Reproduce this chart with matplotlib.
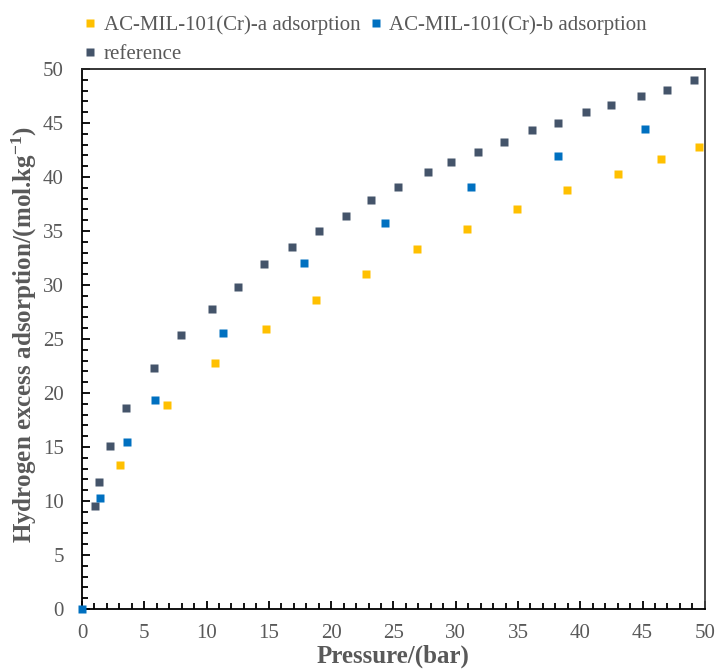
import numpy as np
import matplotlib
matplotlib.use("Agg")
import matplotlib.pyplot as plt
from matplotlib.ticker import MultipleLocator

# data
ref_p = [1.04, 1.39, 2.25, 3.5, 5.78, 7.97, 10.4, 12.55, 14.63, 16.83, 19.0, 21.2,
         23.2, 25.4, 27.8, 29.6, 31.8, 33.9, 36.1, 38.2, 40.5, 42.5, 44.9, 47.0, 49.1]
ref_q = [9.56, 11.76, 15.06, 18.64, 22.34, 25.37, 27.78, 29.84, 31.92, 33.49, 35.0, 36.36,
         37.84, 39.07, 40.44, 41.42, 42.34, 43.21, 44.38, 45.0, 46.02, 46.69, 47.47, 48.08, 48.98]

a_p = [3.07, 6.85, 10.7, 14.75, 18.8, 22.8, 26.9, 30.9, 34.95, 38.95, 43.05, 46.45, 49.55]
a_q = [13.3, 18.86, 22.75, 25.9, 28.6, 31.0, 33.3, 35.2, 37.06, 38.8, 40.3, 41.67, 42.78]

b_p = [0.0, 1.47, 3.6, 5.88, 11.3, 17.8, 24.3, 31.2, 38.2, 45.2]
b_q = [0.0, 10.3, 15.46, 19.35, 25.6, 32.0, 35.7, 39.07, 41.9, 44.4]

plt.rcParams['font.family'] = ['Liberation Serif', 'DejaVu Serif']
plt.rcParams['mathtext.fontset'] = 'custom'
plt.rcParams['mathtext.rm'] = 'Liberation Serif:bold'
plt.rcParams['mathtext.it'] = 'Liberation Serif:bold'
plt.rcParams['mathtext.bf'] = 'Liberation Serif:bold'

grey = '#595959'

fig = plt.figure(figsize=(7.17, 6.7), dpi=100)
ax = fig.add_axes([0.1144, 0.091, 0.8686, 0.806])

ha, = ax.plot(a_p, a_q, 's', color='#FFC000', markersize=6, mec='none', clip_on=False, zorder=3,
              label='AC-MIL-101(Cr)-a adsorption')
hb, = ax.plot(b_p, b_q, 's', color='#0070C0', markersize=6, mec='none', clip_on=False, zorder=4,
              label='AC-MIL-101(Cr)-b adsorption')
hr, = ax.plot(ref_p, ref_q, 's', color='#44546A', markersize=6, mec='none', clip_on=False, zorder=3,
              label='reference')

ax.set_xlim(0, 50)
ax.set_ylim(0, 50)
ax.xaxis.set_major_locator(MultipleLocator(5))
ax.yaxis.set_major_locator(MultipleLocator(5))
ax.xaxis.set_minor_locator(MultipleLocator(1))
ax.yaxis.set_minor_locator(MultipleLocator(1))
ax.tick_params(which='both', direction='in', top=False, right=False, colors='black',
               labelcolor=grey, labelsize=15, width=1.3)
ax.tick_params(which='major', length=6)
ax.tick_params(which='minor', length=4)
ax.tick_params(axis='x', which='major', pad=11)
ax.tick_params(axis='y', which='major', pad=13)
for s in ax.spines.values():
    s.set_linewidth(1.3)
ax.spines['top'].set_color('#262626')
ax.spines['right'].set_color('#404040')

ax.set_xlabel('Pressure/(bar)', fontsize=18, fontweight='bold', color=grey, labelpad=1)
ax.set_ylabel('Hydrogen excess adsorption/(mol.kg$^{-1}$)', fontsize=18, fontweight='bold',
              color=grey, labelpad=3)
ax.yaxis.label.set_y(0.508)

fig.legend([ha, hr, hb], ['AC-MIL-101(Cr)-a adsorption', 'reference', 'AC-MIL-101(Cr)-b adsorption'],
           ncol=2, loc='upper left', bbox_to_anchor=(0.095, 1.0), frameon=False,
           fontsize=15, labelcolor=grey, handlelength=0.6, handletextpad=0.35,
           columnspacing=0.45, markerscale=1.0, borderpad=0.25, labelspacing=0.45)

fig.savefig('out.png', dpi=100)
